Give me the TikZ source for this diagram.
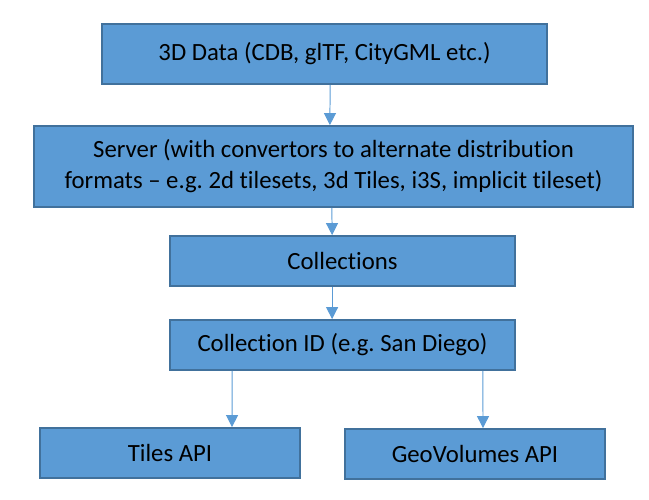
\documentclass[tikz,border=0pt]{standalone}
\usepackage{fontspec}
\setmainfont{Carlito}[Ligatures=NoCommon]
\frenchspacing
\usetikzlibrary{arrows.meta}
\definecolor{boxfill}{HTML}{5B9BD5}
\definecolor{boxline}{HTML}{41719C}
\begin{document}
\begin{tikzpicture}[x=0.025cm, y=-0.025cm,
    box/.style={draw=boxline, fill=boxfill, line width=1.3pt, inner sep=0pt,
        align=center, font=\fontsize{17.6}{22}\selectfont},
    arr/.style={-{Triangle[width=0.3cm,length=0.3cm]}, draw=boxfill, line width=0.7pt}]
    \useasboundingbox (0,0) rectangle (649,499);
    \foreach \nm/\x/\y/\w/\h/\lab in {
        data/324.5/54/11.125/1.5/{3D Data (CDB, glTF, CityGML etc.)},
        server/333.5/166.5/14.975/2.025/{Server (with convertors to alternate distribution\\formats -- e.g. 2d tilesets, 3d Tiles, i3S, implicit tileset)},
        coll/342.5/261/8.625/1.25/{Collections},
        collid/342.5/345/8.625/1.25/{Collection ID (e.g. San Diego)},
        tiles/170/453/6.5/1.25/{Tiles API},
        geo/475/454/6.5/1.25/{GeoVolumes API}} {
        \node[box, minimum width=\w cm, minimum height=\h cm] (\nm) at (\x,\y) {\lab};
    }
    \draw[arr] ([xshift=0.14cm]data.south) -- ([xshift=-0.09cm]server.north);
    \draw[arr] ([xshift=-0.04cm]server.south) -- ([xshift=-0.26cm]coll.north);
    \draw[arr] ([xshift=-0.26cm]coll.south) -- ([xshift=-0.26cm]collid.north);
    \draw[arr] ([xshift=-2.76cm]collid.south) -- ([xshift=1.55cm]tiles.north);
    \draw[arr] ([xshift=3.51cm]collid.south) -- ([xshift=0.2cm]geo.north);
\end{tikzpicture}
\end{document}
